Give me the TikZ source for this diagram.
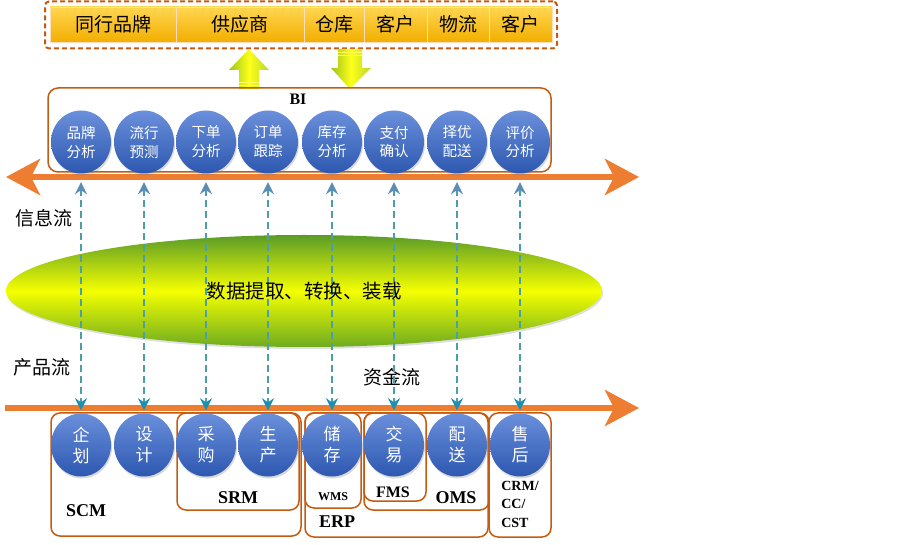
\documentclass[tikz,border=0pt]{standalone}
\usepackage{fontspec}
\setmainfont{Liberation Serif}
\newfontfamily\cjk{Noto Sans CJK SC}
\usetikzlibrary{arrows.meta,shapes.geometric,shadows}
\definecolor{borange}{HTML}{C55A11}
\definecolor{aorange}{HTML}{ED7D31}
\definecolor{dline}{HTML}{4A9FA8}
\definecolor{tiptop}{HTML}{5B8DB5}
\definecolor{tipbot}{HTML}{1E8FB3}
\definecolor{balltop}{HTML}{6A8FDB}
\definecolor{ballbot}{HTML}{2D58B0}
\definecolor{celltop}{HTML}{FFD650}
\definecolor{cellbot}{HTML}{F2AE00}
\definecolor{bagreen}{HTML}{9CC41A}
\definecolor{bayellow}{HTML}{FFFF1A}
\definecolor{bagreen2}{HTML}{B8D62A}
\tikzset{
  cell/.style={draw=white!75!orange, line width=0.6pt, top color=celltop, bottom color=cellbot,
    minimum height=35pt, inner sep=0pt, font=\cjk\fontsize{19}{19}\selectfont,
    drop shadow={opacity=0.3,shadow xshift=1pt,shadow yshift=-1.5pt}},
  ball/.style={ellipse, minimum width=60pt, minimum height=63pt, inner sep=0pt,
    top color=balltop, bottom color=ballbot, text=white, align=center,
    drop shadow={opacity=0.3,shadow xshift=1pt,shadow yshift=-2pt}},
  tball/.style={ball, font=\cjk\fontsize{14.5}{19}\selectfont},
  bball/.style={ball, font=\cjk\fontsize{17}{21}\selectfont},
  grp/.style={draw=borange, line width=1.5pt, rounded corners=9pt, inner sep=0pt},
  glabel/.style={font=\bfseries\fontsize{18}{18}\selectfont, inner sep=0pt},
  conn/.style={dline, line width=2.8pt, dash pattern=on 7pt off 4pt,
    {Stealth[length=12pt,width=12pt,inset=4pt,color=tiptop]}-{Stealth[length=12pt,width=12pt,inset=4pt,color=tipbot]},
    shorten <=8.5pt, shorten >=3pt},
  flowlabel/.style={font=\cjk\fontsize{19}{19}\selectfont, inner sep=0pt},
  bigarrow/.style={aorange, line width=6pt},
  blockarrow/.style={left color=bagreen, right color=bagreen2, middle color=bayellow},
  stripe/.style={bayellow!70!white, line width=0.9pt}
}
\begin{document}
\begin{tikzpicture}[x=1pt,y=-1pt]
\useasboundingbox (0,0) rectangle (903,545);

% top dashed box with cells
\node[draw=borange, line width=2pt, dash pattern=on 5pt off 3pt, rounded corners=4pt,
  minimum width=512pt, minimum height=47pt, inner sep=0pt] (topbox) at (301,25) {};
\node[cell, minimum width=126pt] (c1) at (113,24.5) {同行品牌};
\node[cell, minimum width=128pt] (c2) at (240,24.5) {供应商};
\node[cell, minimum width=60pt] (c3) at (334,24.5) {仓库};
\node[cell, minimum width=63pt] (c4) at (395.5,24.5) {客户};
\node[cell, minimum width=62pt] (c5) at (458,24.5) {物流};
\node[cell, minimum width=63pt] (c6) at (520.5,24.5) {客户};

% block arrows
\path[blockarrow] (249,49) -- (269,70) -- (259,70) -- (259,89) -- (239,89) -- (239,70) -- (229,70) -- cycle;
\draw[stripe] (239,82) -- (259,82) (239,85.5) -- (259,85.5);
\path[blockarrow] (338,49) -- (362,49) -- (362,68) -- (371,68) -- (350,89) -- (331,68) -- (338,68) -- cycle;
\draw[stripe] (338,52) -- (362,52) (338,55.5) -- (362,55.5);

% BI box
\node[draw=borange, line width=1.5pt, rounded corners=10pt, minimum width=503pt,
  minimum height=84pt, inner sep=0pt] (bi) at (299.5,130) {};
\node[glabel, font=\bfseries\fontsize{16}{16}\selectfont] (bil) at (298,99) {BI};

% information flow arrow
\coordinate (il) at (6,177);
\coordinate (ir) at (639,177);
\draw[bigarrow, {Stealth[length=34pt,width=36pt,inset=9pt]}-{Stealth[length=34pt,width=36pt,inset=9pt]}] (il) -- (ir);

% top balls
\node[tball] (t1) at (81,142) {品牌\\分析};
\node[tball] (t2) at (144,142) {流行\\预测};
\node[tball] (t3) at (206,142) {下单\\分析};
\node[tball] (t4) at (268,142) {订单\\跟踪};
\node[tball] (t5) at (332,142) {库存\\分析};
\node[tball] (t6) at (394,142) {支付\\确认};
\node[tball] (t7) at (457,142) {择优\\配送};
\node[tball] (t8) at (520,142) {评价\\分析};

% ellipse
\node[ellipse, minimum width=596pt, minimum height=112pt, inner sep=0pt,
  top color={rgb,255:red,90;green,155;blue,40}, bottom color={rgb,255:red,110;green,172;blue,32},
  middle color={rgb,255:red,245;green,255;blue,0},
  drop shadow={opacity=0.25,shadow xshift=1pt,shadow yshift=-2pt}] (etl) at (304,291) {};

% flow labels
\node[flowlabel] (info) at (44,218) {信息流};
\node[flowlabel] (prod) at (42,367) {产品流};
\node[flowlabel] (fund) at (392,377) {资金流};

% product flow arrow
\coordinate (pl) at (5,408);
\coordinate (pr) at (639,408);
\draw[bigarrow, -{Stealth[length=34pt,width=36pt,inset=9pt]}] (pl) -- (pr);

% group boxes
\node[grp, minimum width=250pt, minimum height=123pt] (scm) at (176,474.5) {};
\node[grp, minimum width=122pt, minimum height=97pt] (srm) at (238,461.5) {};
\node[grp, minimum width=183pt, minimum height=124pt] (erp) at (396.5,475) {};
\node[grp, minimum width=56pt, minimum height=95pt] (wms) at (333,460.5) {};
\node[grp, minimum width=125pt, minimum height=97pt] (oms) at (426.5,461.5) {};
\node[grp, minimum width=62pt, minimum height=88pt] (fms) at (395,457) {};
\node[grp, minimum width=62pt, minimum height=124pt] (crm) at (520,475) {};

% bottom balls
\node[bball] (b1) at (81,445) {企\\划};
\node[bball] (b2) at (144,445) {设\\计};
\node[bball] (b3) at (206,445) {采\\购};
\node[bball] (b4) at (268,445) {生\\产};
\node[bball] (b5) at (332,445) {储\\存};
\node[bball] (b6) at (394,445) {交\\易};
\node[bball] (b7) at (457,445) {配\\送};
\node[bball] (b8) at (520,445) {售\\后};

% group labels
\node[glabel] (scml) at (86,511) {SCM};
\node[glabel] (srml) at (238,498) {SRM};
\node[glabel, font=\bfseries\fontsize{12}{12}\selectfont] (wmsl) at (333,497) {WMS};
\node[glabel, font=\bfseries\fontsize{16}{16}\selectfont] (fmsl) at (393,492) {FMS};
\node[glabel] (omsl) at (456,498) {OMS};
\node[glabel] (erpl) at (337,522) {ERP};
\node[glabel, font=\bfseries\fontsize{14}{18.5}\selectfont, align=left] (crml) at (520,504) {CRM/\\CC/\\CST};

% dashed connectors
\foreach \i in {1,...,8}{
  \draw[conn] (t\i) -- (b\i);
}

% ellipse text on top
\node[font=\cjk\fontsize{19.5}{19.5}\selectfont, inner sep=0pt] (etlt) at (etl.center) {数据提取、转换、装载};
\end{tikzpicture}
\end{document}
